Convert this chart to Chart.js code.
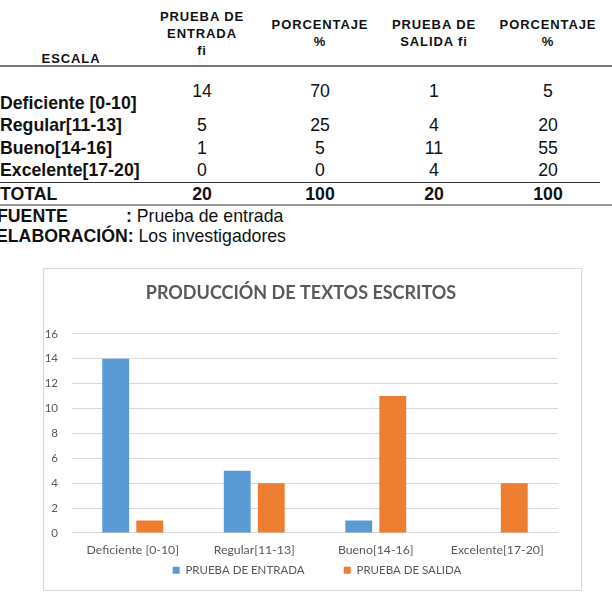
<!DOCTYPE html>
<html>
<head>
<meta charset="utf-8">
<script src="https://cdn.jsdelivr.net/npm/chart.js@4/dist/chart.umd.min.js"></script>
<style>
  body { margin: 0; background: #fff; width: 612px; height: 593px; position: relative; overflow: hidden; font-family: "Liberation Sans", Arial, sans-serif; color: #111; }
  .t { position: absolute; white-space: nowrap; font-size: 17.7px; line-height: 1; }
  .c { transform: translate(-50%, -50%); }
  .l { transform: translateY(-50%); }
  .b { font-weight: bold; }
  .h { font-size: 13px; font-weight: bold; letter-spacing: 0.9px; text-align: center; line-height: 17px; }
  .line { position: absolute; left: 0; }
  #box { position: absolute; left: 43px; top: 268px; width: 537px; height: 321px; border: 1px solid #d9d9d9; }
</style>
</head>
<body>
<div id="table"></div>
<div id="box"><canvas id="chart" width="537" height="321"></canvas></div>
<script>
const escalas = ['Deficiente [0-10]', 'Regular[11-13]', 'Bueno[14-16]', 'Excelente[17-20]'];
const entradaFi = [14, 5, 1, 0];
const entradaPct = [70, 25, 5, 0];
const salidaFi = [1, 4, 11, 4];
const salidaPct = [5, 20, 55, 20];
const totales = [20, 100, 20, 100];
const yTicks = { min: 0, max: 16, step: 2 };

// ---- table above the chart ----
const table = document.getElementById('table');
function put(text, cls, x, y) {
    const d = document.createElement('div');
    d.className = 't ' + cls;
    d.style.left = x + 'px';
    d.style.top = y + 'px';
    d.innerHTML = text;
    table.appendChild(d);
}
function rule(y, h, color, w) {
    const d = document.createElement('div');
    d.className = 'line';
    d.style.top = y + 'px';
    d.style.height = h + 'px';
    d.style.width = (w || 612) + 'px';
    d.style.background = color;
    table.appendChild(d);
}

const colX = [202, 320, 434, 548];
put('PRUEBA DE<br>ENTRADA<br>fi', 'c h', colX[0], 33);
put('PORCENTAJE<br>%', 'c h', colX[1], 33);
put('PRUEBA DE<br>SALIDA fi', 'c h', colX[2], 33);
put('PORCENTAJE<br>%', 'c h', colX[3], 33);
put('ESCALA', 'c h', 71, 58);
rule(65, 2, '#7a7a7a');

const rowY = [104, 126, 149, 171];
const valY = [92, 126, 149, 171];
escalas.forEach((e, i) => {
    put(e, 'l b', 0, rowY[i]);
    [entradaFi[i], entradaPct[i], salidaFi[i], salidaPct[i]].forEach((v, j) => put(v, 'c', colX[j], valY[i]));
});
rule(182, 1, '#333', 600);
put('TOTAL', 'l b', 0, 195);
totales.forEach((v, j) => put(v, 'c b', colX[j], 195));
rule(204, 2, '#9a9a9a');
put('<b>FUENTE</b>', 'l', -3, 217);
put('<b>:</b> Prueba de entrada', 'l', 126, 217);
put('<b>ELABORACIÓN:</b> Los investigadores', 'l', -4, 237);

// ---- bar chart ----
const gray = '#595959';

// move the legend a little once the layout is done
const legendNudge = {
    id: 'legendNudge',
    afterLayout(chart) {
        const lg = chart.legend;
        lg.left += 16; lg.right += 16;
        lg.top -= 8; lg.bottom -= 8;
    }
};

new Chart(document.getElementById('chart'), {
    type: 'bar',
    data: {
        labels: escalas,
        datasets: [{
            label: 'PRUEBA DE ENTRADA',
            data: entradaFi,
            backgroundColor: '#5b9bd5',
            categoryPercentage: 0.56,
            barPercentage: 0.79
        }, {
            label: 'PRUEBA DE SALIDA',
            data: salidaFi,
            backgroundColor: '#ed7d31',
            categoryPercentage: 0.56,
            barPercentage: 0.79
        }]
    },
    plugins: [legendNudge],
    options: {
        responsive: false,
        animation: false,
        devicePixelRatio: 1,
        layout: { padding: { top: 0, right: 23, bottom: -4, left: 0 } },
        plugins: {
            title: {
                display: true,
                text: 'PRODUCCIÓN DE TEXTOS ESCRITOS',
                color: gray,
                font: { family: 'Lato', size: 18, weight: 'bold' },
                padding: { top: 13.6, bottom: 29.6 }
            },
            legend: {
                position: 'bottom',
                labels: {
                    color: gray,
                    font: { family: 'Lato', size: 11.5 },
                    boxWidth: 7,
                    boxHeight: 7,
                    padding: 4.75,
                    generateLabels: chart => {
                        const items = Chart.defaults.plugins.legend.labels.generateLabels(chart);
                        items[0].text += '\u2003\u2003\u2003\u2003';
                        return items;
                    }
                }
            },
            tooltip: { enabled: false }
        },
        scales: {
            x: {
                grid: { display: false, drawTicks: false },
                border: { display: false },
                ticks: { color: gray, font: { family: 'Lato', size: 12.3 }, padding: 10, maxRotation: 0 }
            },
            y: {
                min: yTicks.min,
                max: yTicks.max,
                grid: { color: '#d9d9d9', drawTicks: false },
                border: { display: false },
                ticks: { stepSize: yTicks.step, color: gray, font: { family: 'Lato', size: 11.5 }, padding: 14 },
                afterFit: s => { s.width = 28; }
            }
        }
    }
});
</script>
</body>
</html>
